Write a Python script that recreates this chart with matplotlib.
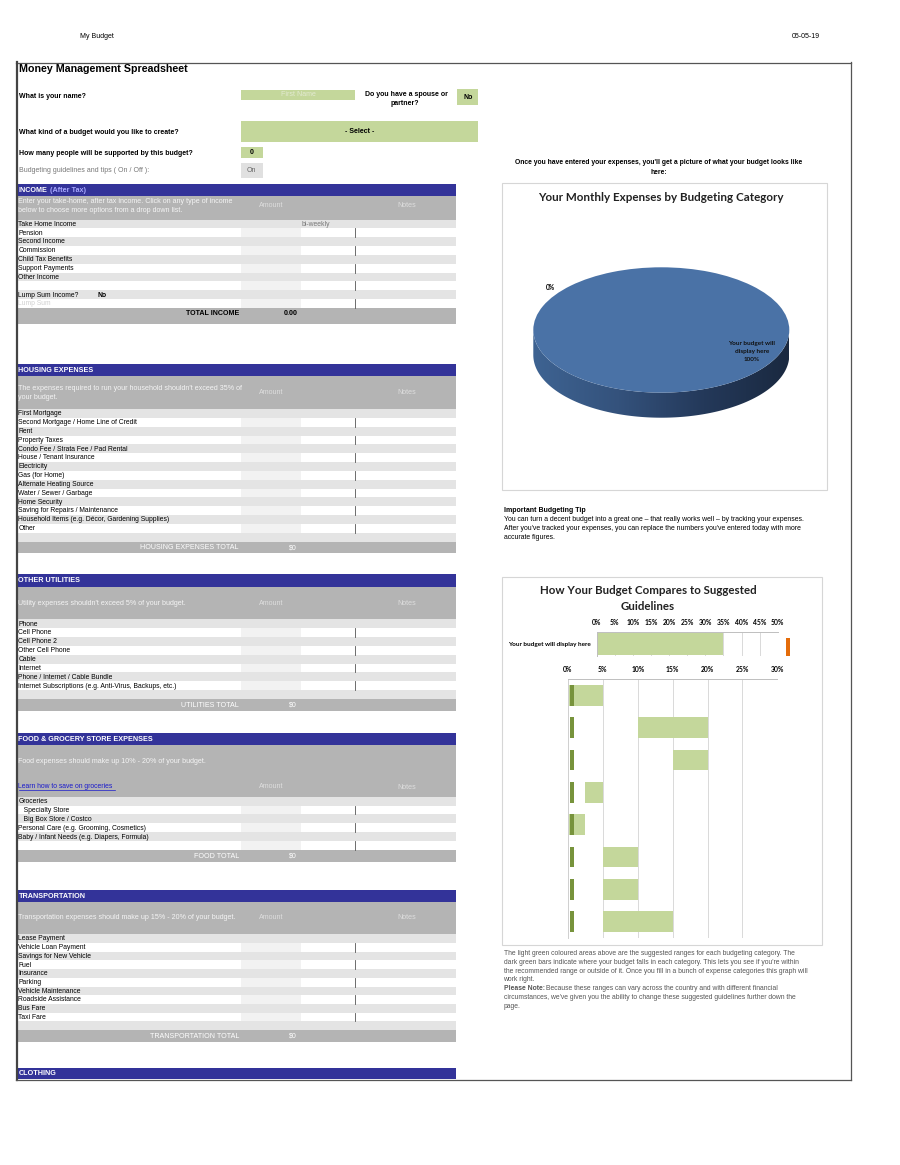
import matplotlib
matplotlib.use('Agg')
import matplotlib.pyplot as plt
from matplotlib.patches import Rectangle, Polygon
from matplotlib.colors import LinearSegmentedColormap
import numpy as np

# ---------------- data ----------------
header_left = "My Budget"
header_right = "05-05-19"
sheet_title = "Money Management Spreadsheet"

income_rows = ["Take Home Income", "Pension", "Second Income", "Commission", "Child Tax Benefits",
               "Support Payments", "Other Income", "", "Lump Sum Income?", "Lump Sum"]
housing_rows = ["First Mortgage", "Second Mortgage / Home Line of Credit", "Rent", "Property Taxes",
                "Condo Fee / Strata Fee / Pad Rental", "House / Tenant Insurance", "Electricity",
                "Gas (for Home)", "Alternate Heating Source", "Water / Sewer / Garbage", "Home Security",
                "Saving for Repairs / Maintenance", "Household Items (e.g. Décor, Gardening Supplies)",
                "Other", ""]
utility_rows = ["Phone", "Cell Phone", "Cell Phone 2", "Other Cell Phone", "Cable", "Internet",
                "Phone / Internet / Cable Bundle", "Internet Subscriptions (e.g. Anti-Virus, Backups, etc.)", ""]
food_rows = ["Groceries", "   Specialty Store", "   Big Box Store / Costco",
             "Personal Care (e.g. Grooming, Cosmetics)", "Baby / Infant Needs (e.g. Diapers, Formula)", ""]
transport_rows = ["Lease Payment", "Vehicle Loan Payment", "Savings for New Vehicle", "Fuel", "Insurance",
                  "Parking", "Vehicle Maintenance", "Roadside Assistance", "Bus Fare", "Taxi Fare", ""]

pie_values = [100]
pie_labels = ["Your budget will", "display here", "100%"]
pie_zero_label = "0%"

summary_labels = ["Your budget will display here"]
summary_values = [35]
summary_marker = [52.4]
summary_ticks = [0, 5, 10, 15, 20, 25, 30, 35, 40, 45, 50]

guide_low = [0, 10, 15, 2.5, 0, 5, 5, 5]
guide_high = [5, 20, 20, 5, 2.5, 10, 10, 15]
actual_left = [0.35, 0.35, 0.35, 0.35, 0.35, 0.35, 0.35, 0.35]
actual_width = [0.5, 0.5, 0.5, 0.5, 0.5, 0.5, 0.5, 0.5]
guide_ticks = [0, 5, 10, 15, 20, 25, 30]

# ---------------- style ----------------
W, H = 900, 1165
NAVY = '#333399'
BAND = '#b4b4b4'
ROWG = '#e4e4e4'
CELL = '#f2f2f2'
GREEN = '#c4d79b'
DKGREEN = '#77933c'
ORANGE = '#e46c0a'
SS = ['Liberation Sans', 'DejaVu Sans']
CH = ['Lato', 'DejaVu Sans']
FS = 5.0
RFS = 4.85

fig = plt.figure(figsize=(W / 100, H / 100), dpi=100)
ax = fig.add_axes([0, 0, 1, 1])
ax.set_xlim(0, W)
ax.set_ylim(H, 0)
ax.axis('off')


def box(x0, y0, x1, y1):
    return [x0 / W, 1 - y1 / H, (x1 - x0) / W, (y1 - y0) / H]


def rect(x0, y0, x1, y1, fc, ec='none', lw=0, z=1):
    ax.add_patch(Rectangle((x0, y0), x1 - x0, y1 - y0, facecolor=fc, edgecolor=ec, linewidth=lw, zorder=z))


def txt(x, y, s, size=FS, color='black', weight='normal', ha='left', va='center', family=SS, **kw):
    ax.text(x, y, s, fontsize=size, color=color, fontweight=weight, ha=ha, va=va, family=family, zorder=5, **kw)


# header
txt(80, 37, header_left, size=5.0)
txt(820, 37, header_right, size=5.0, ha='right')

# outer frame
ax.plot([16, 851], [62.5, 62.5], color='#555555', lw=0.9, zorder=6)
ax.plot([16.5, 16.5], [62, 1080], color='#444444', lw=1.6, zorder=6)
ax.plot([851, 851], [62, 1080], color='#555555', lw=0.9, zorder=6)
ax.plot([16, 851], [1079.5, 1079.5], color='#555555', lw=0.9, zorder=6)

txt(19, 69.5, sheet_title, size=7.65, weight='bold')

# form questions
txt(19, 96, "What is your name?", weight='bold')
rect(241, 90, 355, 100, GREEN)
txt(298, 95, "First Name", color='#e3ead2', ha='center')
txt(406, 94.3, "Do you have a spouse or", weight='bold', ha='center')
txt(405, 103.3, "partner?", weight='bold', ha='center')
rect(457, 89.3, 478.3, 105, GREEN)
txt(467.7, 97.3, "No", weight='bold', ha='center')

txt(19, 132.3, "What kind of a budget would you like to create?", weight='bold')
rect(241, 121, 478.3, 142.3, GREEN)
txt(359.5, 131.5, "- Select -", weight='bold', ha='center')

txt(19, 153.3, "How many people will be supported by this budget?", weight='bold')
rect(241, 147.3, 262.5, 158.5, GREEN)
txt(251.7, 153, "0", weight='bold', ha='center')

txt(19, 170, "Budgeting guidelines and tips ( On / Off ):", color='#777777')
rect(241, 163.3, 262.5, 178.3, '#e0e0e0')
txt(251.7, 170.8, "On", color='#666666', ha='center')


def rows_block(labels, y0, h, faint_last=False):
    for i, lab in enumerate(labels):
        y = y0 + i * h
        if i % 2 == 0:
            rect(17, y, 456, y + h, ROWG)
        else:
            rect(241, y, 301, y + h, CELL)
            ax.plot([355.3, 355.3], [y, y + h], color='#555555', lw=0.6, zorder=3)
        col = 'black'
        if faint_last and i == len(labels) - 1:
            col = '#d0d0d0'
        txt(18.5, y + h / 2 + 0.3, lab, color=col, size=RFS)


def nav(y0, y1, title):
    rect(17, y0, 456, y1, NAVY)
    txt(18.5, (y0 + y1) / 2 + 0.3, title, color='white', weight='bold', size=5.2)


def band(y0, y1, lines, ly, amt_y, notes_y=None):
    rect(17, y0, 456, y1, BAND)
    for s, yy in zip(lines, ly):
        txt(18.5, yy, s, color='#f4f4f4', size=5.1)
    txt(271.7, amt_y, "Amount", color='#dedede', ha='center', size=5.1)
    txt(406.7, notes_y if notes_y else amt_y, "Notes", color='#dedede', ha='center', size=5.1)


def total(y0, y1, label, val, dark=False):
    rect(17, y0, 456, y1, BAND)
    c = 'black' if dark else 'white'
    w = 'bold' if dark else 'normal'
    yy = (y0 + y1) / 2 + 0.3 - (3 if dark else 0)
    txt(239, yy, label, color=c, weight=w, ha='right', size=5.1)
    txt(283.5 if dark else 288.5, yy, val, color=c, weight=w, size=5.1)


# INCOME
rect(17, 184, 456, 195.5, NAVY)
txt(18.5, 190, "INCOME", color='white', weight='bold', size=5.2)
txt(50.5, 190, "(After Tax)", color='#a9a9ff', weight='bold', size=5.2)
band(195.5, 219.5, ["Enter your take-home, after tax income. Click on any type of income",
                    "below to choose more options from a drop down list."], [201.5, 210.0], 205.7)
rows_block(income_rows, 219.5, 8.85, faint_last=True)
txt(302, 219.5 + 8.85 / 2 + 0.3, "bi-weekly", color='#777777', size=RFS)
txt(98, 219.5 + 8 * 8.85 + 8.85 / 2 + 0.3, "No", weight='bold', size=RFS)
total(308, 324, "TOTAL INCOME", "0.00", dark=True)

# HOUSING
nav(364, 376, "HOUSING EXPENSES")
band(376, 409, ["The expenses required to run your household shouldn't exceed 35% of",
                "your budget."], [388.3, 397.7], 392.7)
rows_block(housing_rows, 409, 8.84)
total(541.6, 553, "HOUSING EXPENSES TOTAL", "$0")

# UTILITIES
nav(574, 586.7, "OTHER UTILITIES")
band(586.7, 619.3, ["Utility expenses shouldn't exceed 5% of your budget."], [603.3], 603.3)
rows_block(utility_rows, 619.3, 8.855)
total(699, 710.7, "UTILITIES TOTAL", "$0")

# FOOD
nav(733.3, 745, "FOOD & GROCERY STORE EXPENSES")
band(745, 796.7, ["Food expenses should make up 10% - 20% of your budget."], [761.7], 786.7, 787.7)
txt(18.5, 786.5, "Learn how to save on groceries", color='#1a1acc', size=RFS)
ax.plot([18.5, 114.5], [789.8, 789.8], color='#1a1acc', lw=0.5, zorder=5)
rows_block(food_rows, 796.7, 8.89)
total(850, 861.7, "FOOD TOTAL", "$0")

# TRANSPORT
nav(890, 901.7, "TRANSPORTATION")
band(901.7, 934.3, ["Transportation expenses should make up 15% - 20% of your budget."], [917.7], 917.7)
rows_block(transport_rows, 934.3, 8.7)
total(1030, 1042.3, "TRANSPORTATION TOTAL", "$0")

# CLOTHING
nav(1067.7, 1079.3, "CLOTHING")

# ---------------- right side ----------------
txt(659, 162.5, "Once you have entered your expenses, you'll get a picture of what your budget looks like",
    weight='bold', ha='center', size=4.9)
txt(659, 172.3, "here:", weight='bold', ha='center', size=4.9)

rect(501.7, 183.3, 826.7, 490, 'white', ec='#d6d6d6', lw=0.8, z=2)
txt(660.7, 197.7, "Your Monthly Expenses by Budgeting Category", family=CH, weight='bold', size=8.4,
    color='#222222', ha='center')

# 3D-looking pie
pax = fig.add_axes(box(533.3, 267.3, 789.3, 417.7))
pax.patch.set_alpha(0)
depth = 0.4
wedges, _ = pax.pie(pie_values, colors=['#4a72a6'], startangle=90, radius=1, center=(0, 0))
for wdg in wedges:
    wdg.set_zorder(2)
pax.set_aspect('auto')
th = np.linspace(np.pi, 2 * np.pi, 300)
upper = np.column_stack([np.cos(th), np.sin(th)])
lower = upper[::-1] - np.array([0, depth])
side = Polygon(np.vstack([upper, lower]), closed=True, facecolor='none', edgecolor='none')
pax.add_patch(side)
cmap = LinearSegmentedColormap.from_list('side', ['#3e6392', '#34527c', '#24395a', '#1a2940'])
im = pax.imshow(np.linspace(0, 1, 256).reshape(1, -1), extent=[-1, 1, -1 - depth, 0], cmap=cmap,
                aspect='auto', zorder=1)
im.set_clip_path(side)
pax.set_xlim(-1, 1)
pax.set_ylim(-1 - depth, 1)
pax.axis('off')

pax.text(550, 287, pie_zero_label, family=CH, fontweight='bold', fontsize=4.8, ha='center', va='center',
         transform=ax.transData, zorder=6, clip_on=False)
for s, yy in zip(pie_labels, [343.3, 351.2, 359.8]):
    pax.text(751.7, yy, s, family=CH, fontweight='bold', fontsize=4.6, ha='center', va='center',
             color='#111111', transform=ax.transData, zorder=6, clip_on=False)

# tip
txt(504, 510.5, "Important Budgeting Tip", weight='bold')
tip_lines = ["You can turn a decent budget into a great one \u2013 that really works well \u2013 by tracking your expenses.",
             "After you've tracked your expenses, you can replace the numbers you've entered today with more",
             "accurate figures."]
for i, s in enumerate(tip_lines):
    txt(504, 519.5 + i * 8.9, s, size=4.95)

# guideline chart box
rect(502, 577, 821.7, 945, 'white', ec='#d6d6d6', lw=0.8, z=2)
txt(648, 591, "How Your Budget Compares to Suggested", family=CH, weight='bold', size=8.3, ha='center',
    color='#222222')
txt(648, 606.7, "Guidelines", family=CH, weight='bold', size=8.3, ha='center', color='#222222')


def pct(v):
    return f"{v:g}%"


# summary bar
sax = fig.add_axes(box(596.7, 632.3, 777.7, 656))
sax.set_zorder(5)
sax.patch.set_alpha(0)
sax.barh([0], summary_values, height=0.9, color=GREEN, zorder=2)
sax.barh([-0.1], [0.9], left=summary_marker, height=0.76, color=ORANGE, zorder=2, clip_on=False)
sax.set_xlim(0, 50)
sax.set_ylim(-0.5, 0.5)
sax.set_xticks(summary_ticks)
sax.set_xticklabels([pct(t) for t in summary_ticks], family=CH, fontweight='bold', fontsize=4.9)
sax.set_yticks([0])
sax.set_yticklabels(summary_labels, family=CH, fontweight='bold', fontsize=4.6)
sax.xaxis.tick_top()
sax.tick_params(length=0, pad=4.3)
sax.grid(axis='x', color='#d9d9d9', lw=0.7, zorder=0)
sax.set_axisbelow(True)
for k in ['bottom', 'right']:
    sax.spines[k].set_visible(False)
sax.spines['top'].set_color('#bfbfbf')
sax.spines['left'].set_color('#bfbfbf')
sax.spines['top'].set_linewidth(0.7)
sax.spines['left'].set_linewidth(0.7)

# guideline bars
gax = fig.add_axes(box(568, 679.3, 777.3, 937.7))
gax.set_zorder(5)
gax.patch.set_alpha(0)
ypos = np.arange(len(guide_low))
gax.barh(ypos, np.array(guide_high) - np.array(guide_low), left=guide_low, height=0.64, color=GREEN, zorder=2)
gax.barh(ypos, actual_width, left=actual_left, height=0.64, color=DKGREEN, zorder=3)
gax.set_xlim(0, 30)
gax.set_ylim(len(guide_low) - 0.5, -0.5)
gax.set_xticks(guide_ticks)
gax.set_xticklabels([pct(t) for t in guide_ticks], family=CH, fontweight='bold', fontsize=4.9)
gax.set_yticks([])
gax.xaxis.tick_top()
gax.tick_params(length=0, pad=4.3)
gax.grid(axis='x', color='#d9d9d9', lw=0.7, zorder=0)
gax.set_axisbelow(True)
for k in ['bottom', 'right']:
    gax.spines[k].set_visible(False)
gax.spines['top'].set_color('#bfbfbf')
gax.spines['left'].set_color('#d0d0d0')
gax.spines['top'].set_linewidth(0.7)
gax.spines['left'].set_linewidth(0.7)

# notes under chart
NFS = 4.85
note_lines = ["The light green coloured areas above are the suggested ranges for each budgeting category. The",
              "dark green bars indicate where your budget falls in each category. This lets you see if you're within",
              "the recommended range or outside of it. Once you fill in a bunch of expense categories this graph will",
              "work right."]
for i, s in enumerate(note_lines):
    txt(503.5, 953.6 + i * 8.75, s, color='#555555', size=NFS)
txt(503.5, 988.6, "Please Note:", color='#555555', weight='bold', size=NFS)
txt(546, 988.6, "Because these ranges can vary across the country and with different financial",
    color='#555555', size=NFS)
txt(503.5, 997.4, "circumstances, we've given you the ability to change these suggested guidelines further down the",
    color='#555555', size=NFS)
txt(503.5, 1006.2, "page.", color='#555555', size=NFS)

fig.savefig('out.png', dpi=100, facecolor='white')
